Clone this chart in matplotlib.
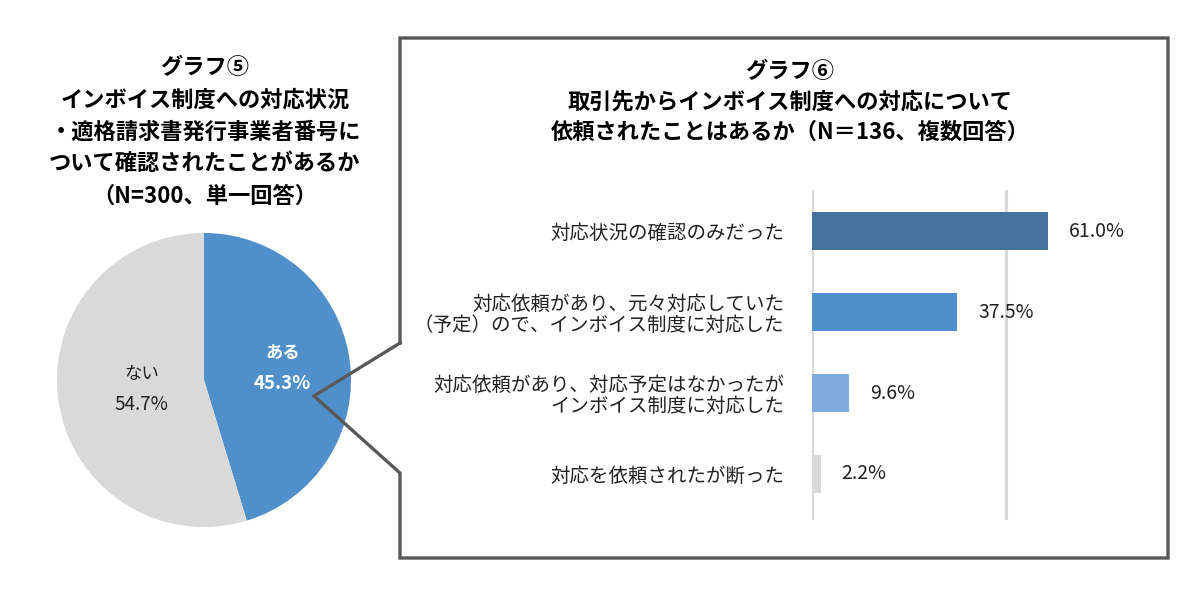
import matplotlib
matplotlib.use('Agg')
import matplotlib.pyplot as plt
from matplotlib.lines import Line2D
import numpy as np

plt.rcParams['font.family'] = ['Noto Sans CJK JP', 'DejaVu Sans']

# Graph 5 (pie)
pie_labels = ['ある', 'ない']
pie_values = [45.3, 54.7]
pie_colors = ['#4F8FCA', '#D9D9D9']
pie_title = 'グラフ⑤\nインボイス制度への対応状況\n・適格請求書発行事業者番号に\nついて確認されたことがあるか\n（N=300、単一回答）'

# Graph 6 (bars)
bar_labels = ['対応状況の確認のみだった',
              '対応依頼があり、元々対応していた\n（予定）ので、インボイス制度に対応した',
              '対応依頼があり、対応予定はなかったが\nインボイス制度に対応した',
              '対応を依頼されたが断った']
bar_values = [61.0, 37.5, 9.6, 2.2]
bar_colors = ['#44729D', '#4F8FCA', '#7FAADC', '#D9D9D9']
bar_title = 'グラフ⑥\n取引先からインボイス制度への対応について\n依頼されたことはあるか（N＝136、複数回答）'

W, H = 1200, 609
fig = plt.figure(figsize=(W / 100, H / 100), dpi=100)


def px(x, y):
    # pixel (top-left origin) -> figure fraction
    return x / W, 1 - y / H


# ---- pie ----
cx, cy, r = 204, 380, 147
ax_pie = fig.add_axes([(cx - 150) / W, (H - cy - 150) / H, 300 / W, 300 / H])
wedges, _ = ax_pie.pie(pie_values, colors=pie_colors, startangle=90,
                       counterclock=False, radius=r / 150,
                       wedgeprops=dict(linewidth=0))
ax_pie.set_xlim(-1, 1)
ax_pie.set_ylim(-1, 1)
ax_pie.set_aspect('equal')
ax_pie.axis('off')

label_r = [0.54 * r / 150, 0.43 * r / 150]
text_style = [dict(color='white', fontweight='bold'), dict(color='#222222')]
for w, lab, val, lr, st in zip(wedges, pie_labels, pie_values, label_r, text_style):
    ang = np.deg2rad((w.theta1 + w.theta2) / 2)
    x, y = lr * np.cos(ang), lr * np.sin(ang)
    ax_pie.annotate(lab, (x, y), xytext=(0, 11), textcoords='offset points',
                    ha='center', va='center', fontsize=12.5, **st)
    ax_pie.annotate(f'{val:.1f}%', (x, y), xytext=(0, -11), textcoords='offset points',
                    ha='center', va='center', fontsize=13.5, **st)

fig.text(*px(205, 132), pie_title, ha='center', va='center', fontsize=16,
         fontweight='bold', linespacing=1.5)

# ---- callout box ----
box_x = [400, 400, 1168, 1168, 400, 400, 314, 400]
box_y = [343, 38, 38, 558, 558, 473, 396, 343]
fig.add_artist(Line2D([x / W for x in box_x], [1 - y / H for y in box_y],
                      transform=fig.transFigure, color='#595959', linewidth=2.4,
                      solid_joinstyle='miter'))

fig.text(*px(790, 102), bar_title, ha='center', va='center', fontsize=16,
         fontweight='bold', linespacing=1.42)

# ---- bars ----
scale = 3.87  # px per %
x0, x1 = 812, 1150
y_top, y_bot = 190, 520
ax_bar = fig.add_axes([x0 / W, (H - y_bot) / H, (x1 - x0) / W, (y_bot - y_top) / H])
pos = np.arange(len(bar_values))
ax_bar.barh(pos, bar_values, height=0.47, color=bar_colors, zorder=3)
ax_bar.set_xlim(0, (x1 - x0) / scale)
ax_bar.set_ylim(3.57, -0.51)
ax_bar.set_xticks([0, 50])
ax_bar.xaxis.grid(True, color='#D9D9D9', linewidth=2.2)
ax_bar.tick_params(axis='x', length=0, labelbottom=False)
ax_bar.set_yticks(pos)
ax_bar.set_yticklabels(bar_labels, fontsize=14, color='#222222', linespacing=1.0)
ax_bar.tick_params(axis='y', length=0, pad=20)
for s in ax_bar.spines.values():
    s.set_visible(False)
for p, v in zip(pos, bar_values):
    ax_bar.annotate(f'{v:.1f}%', (v, p), xytext=(15, 0), textcoords='offset points',
                    ha='left', va='center', fontsize=14, color='#222222')

fig.savefig('out.png', dpi=100, facecolor='white')
